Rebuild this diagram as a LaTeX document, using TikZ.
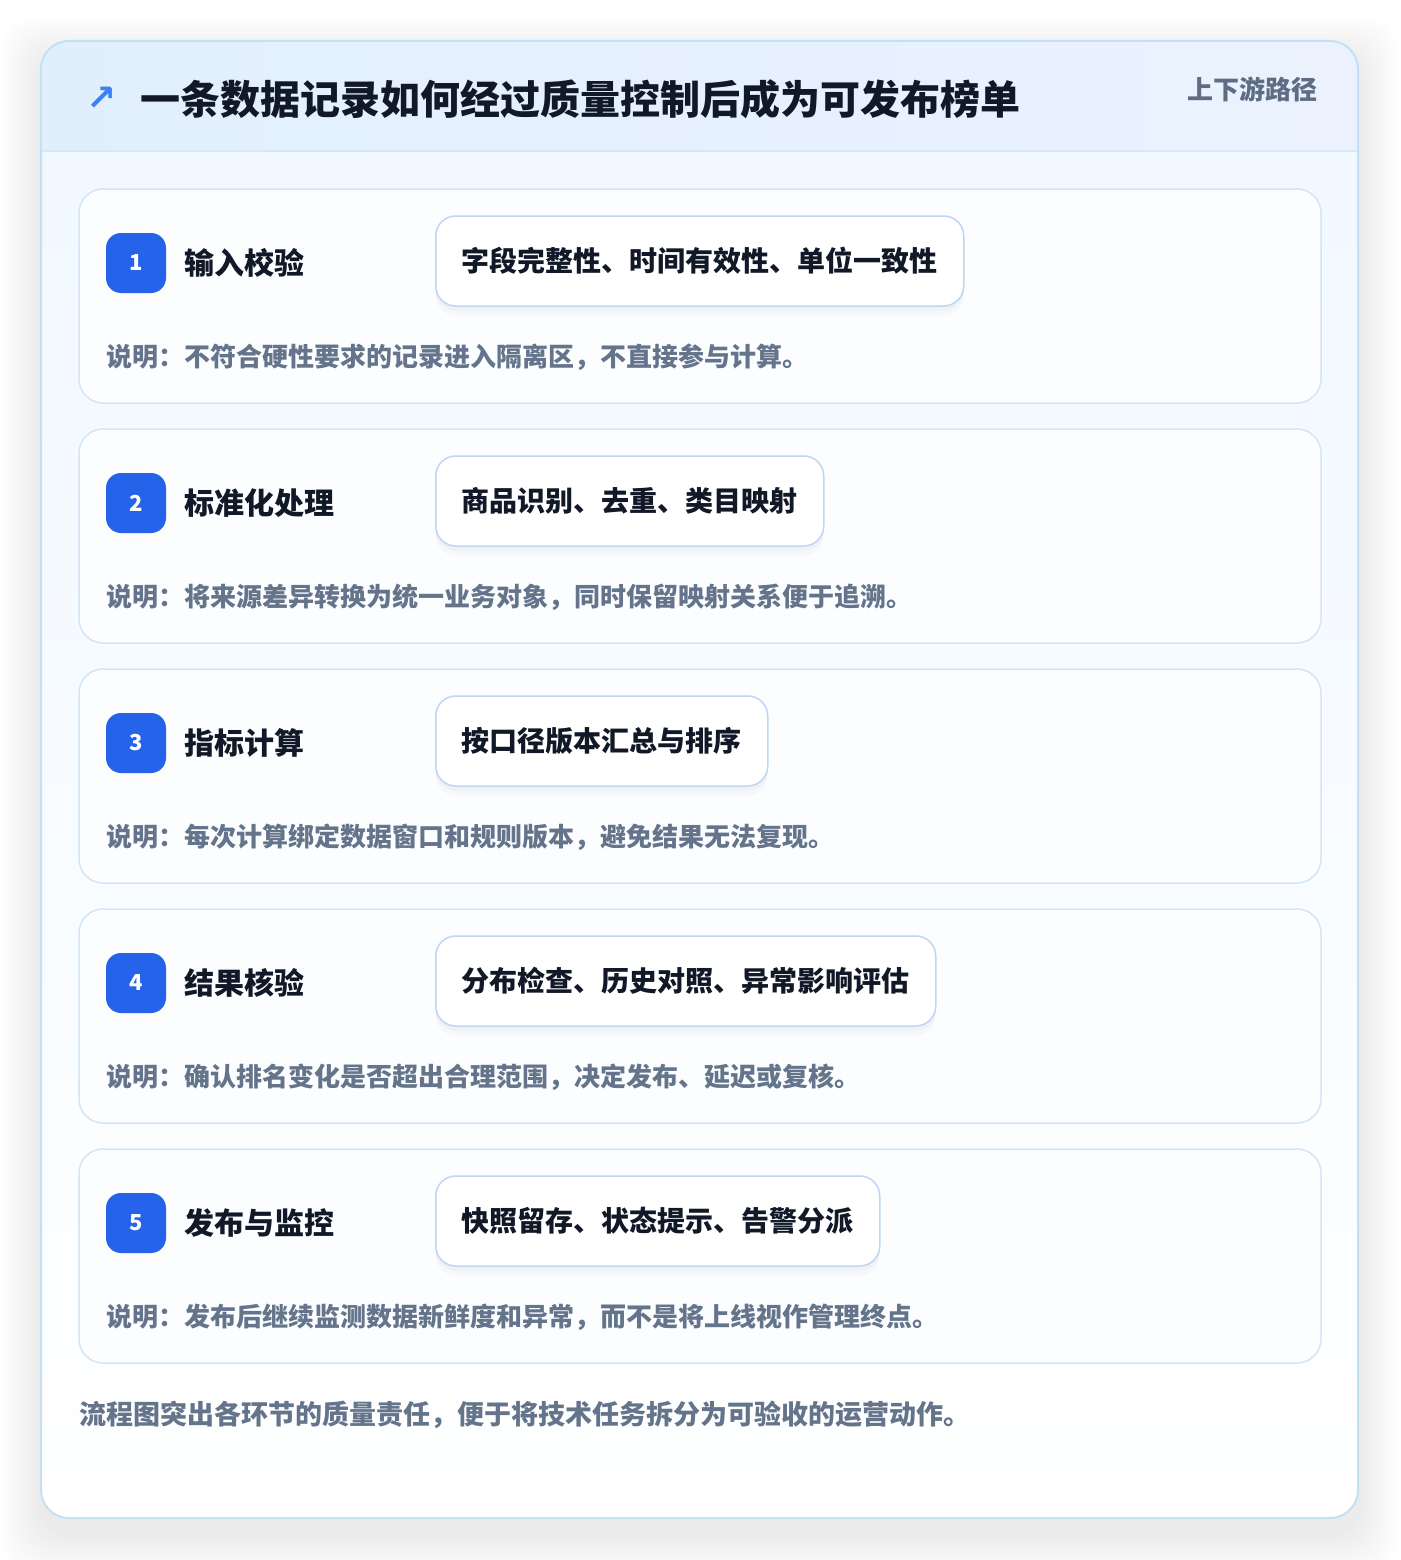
\documentclass[tikz,border=0pt]{standalone}
\usepackage{fontspec}
\setmainfont{Noto Sans CJK SC}
\newfontfamily\symfont{DejaVu Sans}
\usetikzlibrary{positioning}

\definecolor{stepblue}{HTML}{2563EB}
\definecolor{arrowblue}{HTML}{3B82F6}
\definecolor{ink}{HTML}{111827}
\definecolor{note}{HTML}{64748B}
\definecolor{pathgray}{HTML}{5E6D84}
\definecolor{frameline}{HTML}{C3E1F6}
\definecolor{headleft}{HTML}{E1EFFD}
\definecolor{headright}{HTML}{EBF2FE}
\definecolor{headline}{HTML}{D5E7F8}
\definecolor{bodytop}{HTML}{F1F8FF}
\definecolor{cardline}{HTML}{D3E6F8}
\definecolor{cardfill}{HTML}{FCFDFF}
\definecolor{tagline}{HTML}{BCD6F5}

\tikzset{
  stepcard/.style={draw=cardline, fill=cardfill, line width=1.5pt, rounded corners=24pt,
    minimum width=1242pt, minimum height=214pt, inner sep=0pt},
  stepnum/.style={fill=stepblue, rounded corners=15pt, minimum size=60pt, inner sep=0pt,
    text=white, font=\fontsize{22}{26}\selectfont\bfseries},
  steptitle/.style={anchor=west, inner sep=0pt, text=ink, font=\fontsize{30}{36}\selectfont\bfseries},
  steptag/.style={anchor=west, draw=tagline, fill=white, line width=1.5pt, rounded corners=20pt,
    minimum height=90pt, inner xsep=26pt, text=ink, font=\fontsize{28}{34}\selectfont\bfseries,
    preaction={fill=black, opacity=0.025, transform canvas={yshift=-5pt}},
    preaction={fill=black, opacity=0.02, transform canvas={yshift=-10pt}}},
  stepnote/.style={anchor=west, inner sep=0pt, text=note, font=\fontsize{26}{32}\selectfont\bfseries},
}

\begin{document}
\begin{tikzpicture}[x=1pt, y=-1pt]
\useasboundingbox (0,0) rectangle (1400,1560);

% Outer frame with soft shadow
\fill[white] (0,0) rectangle (1400,1560);
\foreach \s in {1,...,20}
  \fill[black, opacity=0.005, rounded corners=32pt] (41-2*\s,41-2*\s+16) rectangle (1358+2*\s,1518+2*\s+16);
\fill[white, rounded corners=28pt] (41,41) rectangle (1358,1518);

% Header band and body
\begin{scope}
\clip[rounded corners=28pt] (41,41) rectangle (1358,1518);
\shade[top color=bodytop, bottom color=white] (41,151) rectangle (1358,1518);
\shade[left color=headleft, right color=headright] (41,41) rectangle (1358,151);
\draw[headline, line width=1.5pt] (41,151) -- (1358,151);
\end{scope}
\draw[frameline, line width=2pt, rounded corners=28pt] (41,41) rectangle (1358,1518);

% Title
\node[text=arrowblue, inner sep=0pt, font=\symfont\bfseries\fontsize{36}{40}\selectfont] (arrow) at (102,99) {↗};
\node[anchor=west, inner sep=0pt, text=ink, font=\fontsize{40}{48}\selectfont\bfseries] (title) at (140,99)
  {一条数据记录如何经过质量控制后成为可发布榜单};
\node[anchor=east, inner sep=0pt, text=pathgray, font=\fontsize{26}{30}\selectfont\bfseries] (route) at (1318,89)
  {上下游路径};

% Steps
\foreach \i/\name/\tag/\desc in {
  1/{输入校验}/{字段完整性、时间有效性、单位一致性}/{说明：不符合硬性要求的记录进入隔离区，不直接参与计算。},
  2/{标准化处理}/{商品识别、去重、类目映射}/{说明：将来源差异转换为统一业务对象，同时保留映射关系便于追溯。},
  3/{指标计算}/{按口径版本汇总与排序}/{说明：每次计算绑定数据窗口和规则版本，避免结果无法复现。},
  4/{结果核验}/{分布检查、历史对照、异常影响评估}/{说明：确认排名变化是否超出合理范围，决定发布、延迟或复核。},
  5/{发布与监控}/{快照留存、状态提示、告警分派}/{说明：发布后继续监测数据新鲜度和异常，而不是将上线视作管理终点。}}
{
  \pgfmathsetmacro\top{189+240*(\i-1)}
  \node[stepcard] (card\i) at (700,\top+107) {};
  \node[stepnum] (num\i) at (136,\top+74) {\i};
  \node[steptitle, right=18pt of num\i] (name\i) {\name};
  \node[steptag] (tag\i) at (435,\top+72) {\tag};
  \node[stepnote] (note\i) at (106,\top+168) {\desc};
}

% Footer
\node[anchor=west, inner sep=0pt, text=note, font=\fontsize{27}{32}\selectfont\bfseries] (footer) at (79,1415)
  {流程图突出各环节的质量责任，便于将技术任务拆分为可验收的运营动作。};
\end{tikzpicture}
\end{document}
